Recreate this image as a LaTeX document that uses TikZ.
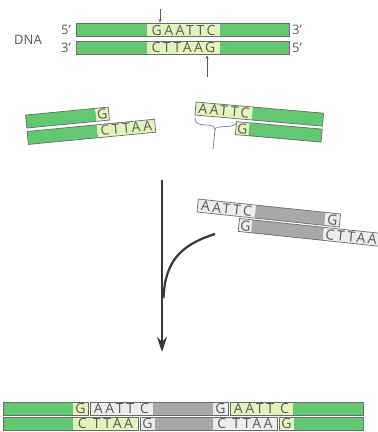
\documentclass[tikz,border=0pt]{standalone}
\usepackage{fontspec}
\setmainfont{Open Sans}
\newfontfamily\basefont[LetterSpace=18]{Open Sans}
\usetikzlibrary{arrows.meta}
\definecolor{dgreen}{HTML}{62C872}
\definecolor{lgreen}{HTML}{E2F4BC}
\definecolor{dgray}{HTML}{A8A8A8}
\definecolor{lgray}{HTML}{EDEDED}
\definecolor{edgec}{HTML}{6A6A6A}
\definecolor{txt}{HTML}{5A5A5A}
\definecolor{arrowc}{HTML}{383838}
\newcommand\dseg[6]{\node[segbox,fill=#2,minimum width=#5pt] (#1) at (#3,#4) {#6};}
\newcommand\outl[2]{\draw[outline] (#1.north west) -- (#2.north east) -- (#2.south east) -- (#1.south west) -- cycle;}
\begin{document}
\begin{tikzpicture}[x=1pt,y=-1pt,
  segbox/.style={anchor=west, minimum height=13pt, text height=10pt, text depth=0pt, inner sep=0pt, outer sep=0pt,
    font=\basefont\fontsize{14}{14}\selectfont, text=txt},
  outline/.style={draw=edgec, line width=0.7pt},
  lbl/.style={font=\fontsize{13}{13}\selectfont, text=txt, inner sep=0pt},
  cutarrow/.style={draw=txt, line width=0.5pt, -{Stealth[length=3.5pt,width=3pt]}},
  bigarrow/.style={draw=arrowc, line width=2pt, -{Stealth[length=15pt,width=10pt]}},
  bracec/.style={draw=gray, line width=0.7pt}
]
\clip (0,0) rectangle (378,432);
\fill[white] (0,0) rectangle (378,432);

% ---------- top DNA ----------
\node[lbl] (dna) at (28,40) {DNA};
\node[lbl] (p5l) at (66,30) {5’};
\node[lbl] (p3l) at (66,47.5) {3’};
\dseg{t1}{dgreen}{76}{30}{71}{}
\dseg{t2}{lgreen}{147}{30}{73}{GAATTC}
\dseg{t3}{dgreen}{220}{30}{69}{}
\outl{t1}{t3}
\dseg{b1}{dgreen}{76}{47.5}{71}{}
\dseg{b2}{lgreen}{147}{47.5}{73}{CTTAAG}
\dseg{b3}{dgreen}{220}{47.5}{69}{}
\outl{b1}{b3}
\node[lbl,anchor=west] (p3r) at (292,30) {3’};
\node[lbl,anchor=west] (p5r) at (292,47.5) {5’};
\coordinate (ca1) at (160,9);
\coordinate (ca2) at (160,22.5);
\draw[cutarrow] (ca1) -- (ca2);
\coordinate (cb1) at (207,77);
\coordinate (cb2) at (207,55.5);
\draw[cutarrow] (cb1) -- (cb2);

% ---------- left fragment ----------
\begin{scope}[rotate around={5.5:(27,130)}, transform shape]
\dseg{l1}{dgreen}{27}{121.5}{70}{}
\dseg{l2}{lgreen}{97}{121.5}{13}{G}
\outl{l1}{l2}
\dseg{l3}{dgreen}{27}{138}{70}{}
\dseg{l4}{lgreen}{97}{138}{58}{CTTAA}
\outl{l3}{l4}
\end{scope}

% ---------- right fragment ----------
\begin{scope}[rotate around={-5:(195,115)}, transform shape]
\dseg{r1}{lgreen}{195}{108.5}{57}{AATTC}
\dseg{r2}{dgreen}{252}{108.5}{71}{}
\outl{r1}{r2}
\dseg{r3}{lgreen}{237}{124.5}{13}{G}
\dseg{r4}{dgreen}{250}{124.5}{73}{}
\outl{r3}{r4}
\end{scope}
% brace
\coordinate (brl) at (195,118);
\coordinate (brt) at (215,130);
\coordinate (brr) at (237,121);
\coordinate (brs) at (213,149);
\draw[bracec] (brl) .. controls (195,124) and (199,124.5) .. (205,124.8)
  .. controls (212,125.2) and (215,126) .. (brt)
  .. controls (215,127) and (218,127) .. (226,126.5)
  .. controls (233,126) and (236,125.5) .. (brr);
\draw[bracec] (brt) -- (brs);

% ---------- arrows ----------
\coordinate (vtop) at (162,180);
\coordinate (vbot) at (162,352);
\draw[bigarrow] (vtop) -- (vbot);
\coordinate (cst) at (215,234);
\coordinate (cjn) at (163.5,298);
\draw[draw=arrowc, line width=2.2pt] (cst) .. controls (180,245) and (165,262) .. (cjn);

% ---------- gray fragment ----------
\begin{scope}[rotate around={-6:(197,212)}, transform shape]
\dseg{g1}{lgray}{197}{205.5}{58}{AATTC}
\dseg{g2}{dgray}{255}{205.5}{70}{}
\dseg{g3}{lgray}{325}{205.5}{15}{G}
\outl{g1}{g3}
\dseg{g4}{lgray}{240}{220.5}{13}{G}
\dseg{g5}{dgray}{253}{220.5}{72}{}
\dseg{g6}{lgray}{325}{220.5}{56}{CTTAA}
\outl{g4}{g6}
\end{scope}

% ---------- ligated product ----------
\dseg{u1}{dgreen}{3}{408.5}{70}{}
\dseg{u2}{lgreen}{73}{408.5}{15}{G}
\outl{u1}{u2}
\dseg{u3}{lgray}{90}{408.5}{63}{AATT C}
\dseg{u4}{dgray}{153}{408.5}{60}{}
\dseg{u5}{lgray}{213}{408.5}{15}{G}
\outl{u3}{u5}
\dseg{u6}{lgreen}{230}{408.5}{63}{AATT C}
\dseg{u7}{dgreen}{293}{408.5}{70}{}
\outl{u6}{u7}
\dseg{w1}{dgreen}{3}{423.5}{70}{}
\dseg{w2}{lgreen}{73}{423.5}{65}{C TTAA}
\outl{w1}{w2}
\dseg{w3}{lgray}{140}{423.5}{15}{G}
\dseg{w4}{dgray}{155}{423.5}{58}{}
\dseg{w5}{lgray}{213}{423.5}{64}{C TTAA}
\outl{w3}{w5}
\dseg{w6}{lgreen}{279}{423.5}{15}{G}
\dseg{w7}{dgreen}{294}{423.5}{69}{}
\outl{w6}{w7}
\end{tikzpicture}
\end{document}
